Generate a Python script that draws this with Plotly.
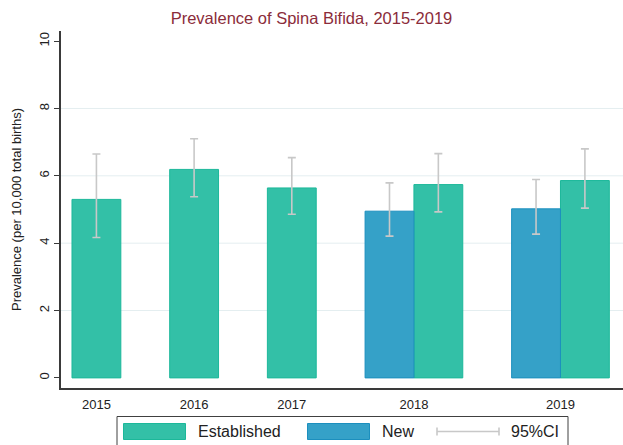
import plotly.graph_objects as go

# ---- data ----
years = ["2015", "2016", "2017", "2018", "2019"]
established = [5.30, 6.19, 5.64, 5.74, 5.86]
established_lo = [4.17, 5.38, 4.86, 4.93, 5.04]
established_hi = [6.65, 7.10, 6.54, 6.66, 6.80]
new = [None, None, None, 4.95, 5.02]
new_lo = [None, None, None, 4.21, 4.27]
new_hi = [None, None, None, 5.79, 5.89]
y_ticks = [0, 2, 4, 6, 8, 10]
grid_vals = [2, 4, 6, 8]

title = "Prevalence of Spina Bifida, 2015-2019"
y_title = "Prevalence (per 10,000 total births)"

EST_FILL, EST_EDGE = "#33C0A7", "#1CB89A"
NEW_FILL, NEW_EDGE = "#35A1C8", "#1C8FBE"
CI_COL = "#C8C8C8"
FONT = "Liberation Sans, Arial, sans-serif"

# ---- layout of bars: bars of a year sit side by side, one bar-width gap between years ----
pos_new, pos_est, centers = [], [], []
cursor = 0.0
for i in range(len(years)):
    series = []
    if new[i] is not None:
        series.append("new")
    series.append("est")
    start = cursor
    for s in series:
        if s == "new":
            pos_new.append(cursor + 0.5)
        else:
            pos_est.append(cursor + 0.5)
        cursor += 1
    centers.append((start + cursor) / 2)
    cursor += 1

new_idx = [i for i in range(len(years)) if new[i] is not None]

fig = go.Figure()
fig.add_trace(go.Bar(
    x=pos_est, y=established, width=1,
    marker=dict(color=EST_FILL, line=dict(color=EST_EDGE, width=1)),
    error_y=dict(type="data", symmetric=False,
                 array=[h - v for h, v in zip(established_hi, established)],
                 arrayminus=[v - l for v, l in zip(established, established_lo)],
                 color=CI_COL, thickness=1.6, width=4),
    name="Established", showlegend=False))
fig.add_trace(go.Bar(
    x=pos_new, y=[new[i] for i in new_idx], width=1,
    marker=dict(color=NEW_FILL, line=dict(color=NEW_EDGE, width=1)),
    error_y=dict(type="data", symmetric=False,
                 array=[new_hi[i] - new[i] for i in new_idx],
                 arrayminus=[new[i] - new_lo[i] for i in new_idx],
                 color=CI_COL, thickness=1.6, width=4),
    name="New", showlegend=False))

W, H = 623, 445
L, R, T, B = 61, 0, 31, 57
pw, ph = W - L - R, H - T - B

def px(x):
    return (x - L) / pw

def py(y):
    return (H - B - y) / ph

shapes = []
for g in grid_vals:
    shapes.append(dict(type="line", xref="paper", yref="y", x0=0, x1=1, y0=g, y1=g,
                       line=dict(color="#E4EEF0", width=1), layer="below"))

# custom legend
shapes.append(dict(type="rect", xref="paper", yref="paper",
                   x0=px(117), x1=px(568), y0=py(416.5), y1=py(450),
                   line=dict(color="#404040", width=1), fillcolor="rgba(0,0,0,0)"))
shapes.append(dict(type="rect", xref="paper", yref="paper",
                   x0=px(123.5), x1=px(185.5), y0=py(423.5), y1=py(439.5),
                   line=dict(color=EST_EDGE, width=1), fillcolor=EST_FILL))
shapes.append(dict(type="rect", xref="paper", yref="paper",
                   x0=px(307.5), x1=px(369.5), y0=py(423.5), y1=py(439.5),
                   line=dict(color=NEW_EDGE, width=1), fillcolor=NEW_FILL))
shapes.append(dict(type="line", xref="paper", yref="paper",
                   x0=px(437), x1=px(499), y0=py(431.5), y1=py(431.5),
                   line=dict(color=CI_COL, width=1.6)))
for xx in (437, 499):
    shapes.append(dict(type="line", xref="paper", yref="paper",
                       x0=px(xx), x1=px(xx), y0=py(427.5), y1=py(435.5),
                       line=dict(color=CI_COL, width=1.6)))

annotations = []
for label, xx in (("Established", 196), ("New", 380), ("95%CI", 509)):
    annotations.append(dict(text=label, xref="paper", yref="paper", x=px(xx), y=py(431.5),
                            xanchor="left", yanchor="middle", showarrow=False,
                            font=dict(family=FONT, size=16, color="#222222")))

fig.update_layout(
    width=W, height=H,
    margin=dict(l=L, r=R, t=T, b=B, pad=0),
    paper_bgcolor="white", plot_bgcolor="white",
    barmode="overlay",
    title=dict(text=title, x=px(342), xanchor="center", y=1 - 18 / H, yanchor="middle",
               font=dict(family=FONT, size=16.5, color="#8B2C3A")),
    xaxis=dict(range=[-0.225, 11.28], tickmode="array", tickvals=centers, ticktext=years,
               showgrid=False, zeroline=False, showline=True, linecolor="#3A3A3A",
               linewidth=1.5, ticks="", ticklabelstandoff=4, automargin=False,
               tickfont=dict(family=FONT, size=13, color="#222222")),
    yaxis=dict(range=[-0.3, 10.3], tickmode="array", tickvals=y_ticks,
               showgrid=False, zeroline=False, showline=True, linecolor="#3A3A3A",
               linewidth=1.5, ticks="outside", ticklen=5, tickcolor="#3A3A3A",
               tickangle=-90, automargin=False,
               tickfont=dict(family=FONT, size=13, color="#222222"),
               title=dict(text=y_title, standoff=12,
                          font=dict(family=FONT, size=13, color="#222222"))),
    shapes=shapes, annotations=annotations,
)

fig.write_html("out.html", config={"displayModeBar": False},
               post_script="document.body.style.margin='0';document.body.style.overflow='hidden';")
